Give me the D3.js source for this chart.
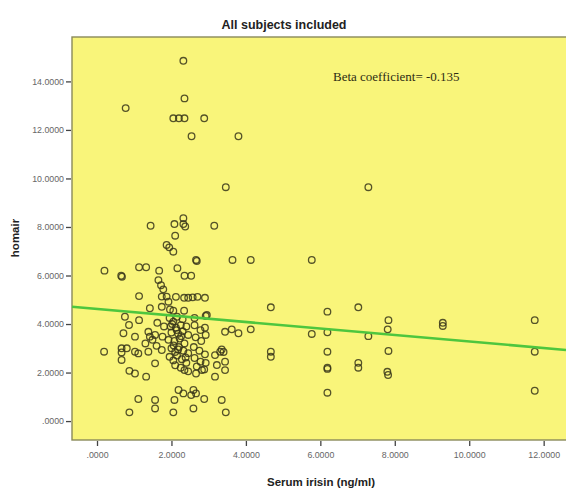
<!DOCTYPE html>
<html>
<head>
<meta charset="utf-8">
<script src="https://cdn.jsdelivr.net/npm/d3@7"></script>
<style>
  html, body { margin: 0; padding: 0; background: #ffffff; }
  svg { display: block; }
</style>
</head>
<body>
<svg id="chart" width="566" height="488"></svg>
<script>
// ---- data ----
const irisin = [
  2.32, 2.35, 0.77, 2.05, 2.20, 2.35, 2.88, 2.54, 3.80, 3.46, 7.29,
  1.44, 2.08, 2.32, 2.32, 2.37, 3.15, 2.10, 1.87, 1.94, 2.05, 2.66, 2.68, 3.64, 4.13, 5.77,
  0.20, 0.65, 0.67, 1.13, 1.32, 1.67, 2.16, 2.35, 2.53, 1.65, 1.72, 1.78, 1.13, 1.74, 1.87,
  2.12, 2.34, 2.45, 2.57, 2.70, 2.90,
  1.74, 1.42, 1.96, 2.05, 2.34, 1.92, 0.75, 1.13, 0.86, 2.92, 4.67, 6.19, 7.02, 7.83, 9.29, 9.29, 11.76, 2.95,
  0.71, 1.02, 1.38, 1.56, 1.42, 1.76, 1.49, 3.44, 3.62, 3.80, 4.13, 5.77, 6.19, 7.29, 7.81,
  0.19, 0.66, 0.66, 0.80, 1.02, 1.11, 1.38, 1.74, 0.66, 1.56, 0.87, 1.02, 1.32,
  4.67, 4.67, 6.19, 6.19, 6.19, 7.02, 7.02, 7.83, 7.80, 7.82, 11.76, 6.19, 11.76,
  3.17, 3.31, 3.44, 3.22, 3.17, 3.44, 3.35, 3.40,
  2.19, 2.32, 2.59, 2.66, 2.53, 1.11, 1.56, 1.56, 2.08, 2.88, 3.35, 0.87, 2.05, 2.59, 3.46, 2.66, 2.88,
  1.95, 2.05, 2.15, 2.30, 1.98, 2.12, 2.25, 2.40, 2.00, 2.18, 2.30, 2.45, 1.92, 2.08, 2.22, 2.35,
  2.00, 2.10, 2.20, 2.32, 2.45, 1.95, 2.05, 2.15, 2.28, 2.40, 2.10, 2.25, 2.35, 2.45,
  2.62, 2.62, 2.78, 2.90, 2.65, 2.80, 2.92, 2.60, 2.75, 2.90, 2.62, 2.78, 2.92, 2.68, 2.82,
  1.60, 1.80, 1.62, 1.30,
  2.02, 2.14, 2.26, 2.06, 2.18, 2.38
];
const homair = [
  14.85, 13.30, 12.90, 12.48, 12.48, 12.48, 12.48, 11.74, 11.74, 9.64, 9.64,
  8.05, 8.12, 8.36, 8.12, 8.02, 8.05, 7.64, 7.26, 7.16, 6.98, 6.64, 6.60, 6.64, 6.64, 6.64,
  6.20, 5.99, 5.95, 6.34, 6.34, 6.20, 6.30, 5.99, 5.99, 5.81, 5.60, 5.43, 5.15, 5.13, 5.13,
  5.12, 5.08, 5.08, 5.10, 5.12, 5.08,
  4.71, 4.65, 4.60, 4.55, 4.55, 4.92, 4.30, 4.16, 3.96, 4.33, 4.69, 4.51, 4.69, 4.16, 4.05, 3.92, 4.16, 4.37,
  3.62, 3.48, 3.68, 3.55, 3.48, 3.48, 3.35, 3.68, 3.78, 3.62, 3.78, 3.59, 3.66, 3.50, 3.78,
  2.86, 3.00, 2.83, 3.00, 2.86, 2.79, 2.86, 2.93, 2.52, 2.38, 2.07, 1.96, 1.83,
  2.86, 2.65, 2.86, 2.20, 2.15, 2.40, 2.20, 2.89, 2.03, 1.90, 2.86, 1.17, 1.25,
  2.72, 2.86, 2.45, 2.31, 1.83, 2.10, 2.95, 2.85,
  1.28, 1.14, 1.28, 1.14, 1.07, 0.91, 0.87, 0.52, 0.87, 0.91, 0.87, 0.36, 0.36, 0.52, 0.36, 1.96, 2.13,
  4.25, 4.10, 4.30, 4.20, 3.90, 3.85, 3.95, 3.90, 3.65, 3.60, 3.70, 3.55, 3.35, 3.30, 3.40, 3.20,
  3.00, 2.85, 3.05, 2.90, 2.80, 2.65, 2.50, 2.70, 2.55, 2.40, 2.30, 2.20, 2.10, 2.05,
  4.25, 3.95, 3.75, 3.85, 3.45, 3.30, 3.55, 3.05, 2.90, 2.75, 2.60, 2.45, 2.40, 2.25, 2.10,
  3.10, 3.90, 4.05, 3.20,
  4.00, 3.75, 3.50, 3.12, 2.95, 2.62
];
const fitIntercept = 4.62;
const fitSlope = -0.134;
const xTicks = [0, 2, 4, 6, 8, 10, 12];
const yTicks = [0, 2, 4, 6, 8, 10, 12, 14];
const titleText = "All subjects included";
const xLabel = "Serum irisin (ng/ml)";
const yLabel = "homair";
const annotation = "Beta coefficient= -0.135";

// ---- layout ----
const svg = d3.select("#chart");
const pL = 72, pR = 566, pT = 37, pB = 440;

const x = d3.scaleLinear().domain([-0.672, 12.6]).range([pL, pR]);
const y = d3.scaleLinear().domain([-0.78, 15.83]).range([pB, pT]);
const fmt = v => d3.format(".4f")(v).replace(/^0\./, ".");

// plot background
svg.append("rect")
  .attr("x", pL).attr("y", pT)
  .attr("width", pR - pL + 5).attr("height", pB - pT)
  .attr("fill", "#f9f57a")
  .attr("stroke", "#8a8a5a").attr("stroke-width", 1.4);

// axes
const xAxis = d3.axisBottom(x).tickValues(xTicks).tickFormat(fmt).tickSize(5).tickPadding(6);
const yAxis = d3.axisLeft(y).tickValues(yTicks).tickFormat(fmt).tickSize(5).tickPadding(2);

const gx = svg.append("g").attr("transform", `translate(0,${pB + 1})`).call(xAxis);
const gy = svg.append("g").attr("transform", `translate(${pL - 1},0)`).call(yAxis);
[gx, gy].forEach(g => {
  g.select(".domain").remove();
  g.selectAll(".tick line").attr("stroke", "#444").attr("stroke-width", 1.3);
  g.selectAll(".tick text")
    .attr("fill", "#666")
    .style("font-family", "Arial, 'Liberation Sans', sans-serif")
    .style("font-size", "8.8px");
});

// points
svg.append("g").selectAll("circle")
  .data(irisin.map((v, i) => [v, homair[i]]))
  .join("circle")
  .attr("cx", d => x(d[0]))
  .attr("cy", d => y(d[1]))
  .attr("r", 3.3)
  .attr("fill", "none")
  .attr("stroke", "#38361a")
  .attr("stroke-width", 1.3)
  .attr("stroke-opacity", 0.85);

// fit line
const xd = x.domain();
svg.append("line")
  .attr("x1", x(xd[0])).attr("y1", y(fitIntercept + fitSlope * xd[0]))
  .attr("x2", x(xd[1])).attr("y2", y(fitIntercept + fitSlope * xd[1]))
  .attr("stroke", "#4ec63e").attr("stroke-width", 2.6);

// annotation
svg.append("text")
  .attr("x", 333).attr("y", 81)
  .attr("fill", "#2e2c14")
  .style("font-family", "'Liberation Serif', 'Times New Roman', serif")
  .style("font-size", "13px")
  .text(annotation);

// title
svg.append("text")
  .attr("x", 284).attr("y", 29)
  .attr("text-anchor", "middle")
  .attr("fill", "#222")
  .style("font-family", "Arial, 'Liberation Sans', sans-serif")
  .style("font-weight", "bold")
  .style("font-size", "12.5px")
  .text(titleText);

// x label
svg.append("text")
  .attr("x", 321).attr("y", 486)
  .attr("text-anchor", "middle")
  .attr("fill", "#222")
  .style("font-family", "Arial, 'Liberation Sans', sans-serif")
  .style("font-weight", "bold")
  .style("font-size", "11.5px")
  .text(xLabel);

// y label
svg.append("text")
  .attr("transform", `translate(19,238) rotate(-90)`)
  .attr("text-anchor", "middle")
  .attr("fill", "#222")
  .style("font-family", "Arial, 'Liberation Sans', sans-serif")
  .style("font-weight", "bold")
  .style("font-size", "11.5px")
  .text(yLabel);
</script>
</body>
</html>
